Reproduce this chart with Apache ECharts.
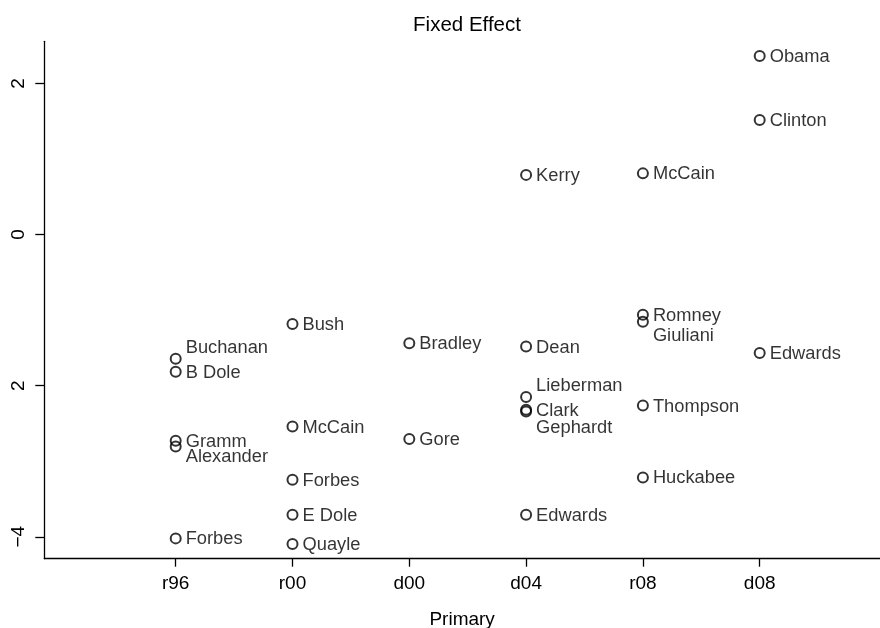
<!DOCTYPE html>
<html>
<head>
<meta charset="utf-8">
<script src="https://cdn.jsdelivr.net/npm/echarts@6/dist/echarts.min.js"></script>
<style>
html,body{margin:0;padding:0;background:#fff;}
#chart{width:880px;height:628px;}
</style>
</head>
<body>
<div id="chart"></div>
<script>
// ---- data ----
const primaries = ['r96', 'r00', 'd00', 'd04', 'r08', 'd08'];
const yTickValues = [-4, -2, 0, 2];
const yTickLabels = ['\u22124', '2', '0', '2'];
const candidates = [
  'Buchanan', 'B Dole', 'Gramm', 'Alexander', 'Forbes',
  'Bush', 'McCain', 'Forbes', 'E Dole', 'Quayle',
  'Bradley', 'Gore',
  'Kerry', 'Dean', 'Lieberman', 'Clark', 'Gephardt', 'Edwards',
  'McCain', 'Romney', 'Giuliani', 'Thompson', 'Huckabee',
  'Obama', 'Clinton', 'Edwards'
];
const candidatePrimary = [
  'r96', 'r96', 'r96', 'r96', 'r96',
  'r00', 'r00', 'r00', 'r00', 'r00',
  'd00', 'd00',
  'd04', 'd04', 'd04', 'd04', 'd04', 'd04',
  'r08', 'r08', 'r08', 'r08', 'r08',
  'd08', 'd08', 'd08'
];
const fixedEffect = [
  -1.644, -1.816, -2.729, -2.804, -4.021,
  -1.185, -2.540, -3.245, -3.708, -4.095,
  -1.437, -2.706,
  0.79, -1.481, -2.151, -2.319, -2.341, -3.708,
  0.81, -1.062, -1.155, -2.262, -3.214,
  2.364, 1.517, -1.569
];
// label placement (clock-style) for crowded points
const labelAbove = ['Buchanan|r96', 'Lieberman|d04'];
const labelBelow = ['Alexander|r96', 'Gephardt|d04', 'Giuliani|r08'];

// ---- chart ----
const FONT = 'Liberation Sans, Arial, Helvetica, sans-serif';
const points = candidates.map((name, i) => {
  const key = name + '|' + candidatePrimary[i];
  let dy = 1;
  if (labelAbove.includes(key)) dy = -11;
  if (name === 'Alexander') dy = 11;
  if (name === 'Gephardt') dy = 17;
  if (name === 'Giuliani') dy = 14;
  return {
    value: [primaries.indexOf(candidatePrimary[i]), fixedEffect[i]],
    name: name,
    label: { offset: [0, dy] }
  };
});

const chart = echarts.init(document.getElementById('chart'), null, { renderer: 'canvas' });
chart.setOption({
  animation: false,
  backgroundColor: '#fff',
  title: {
    text: 'Fixed Effect',
    left: 462,
    textAlign: 'center',
    top: 10,
    textStyle: { fontFamily: FONT, fontSize: 20.5, fontWeight: 'normal', color: '#000' }
  },
  grid: { left: 44.3, right: 0, top: 41.3, bottom: 69.3, containLabel: false, outerBoundsMode: 'none' },
  xAxis: {
    type: 'value',
    min: -1.125,
    max: 6.03,
    name: 'Primary',
    nameLocation: 'middle',
    nameGap: 52,
    nameTextStyle: { fontFamily: FONT, fontSize: 19, color: '#000' },
    axisLine: { show: true, onZero: false, lineStyle: { color: '#000', width: 1.3 } },
    axisTick: { show: true, length: 8, lineStyle: { color: '#000', width: 1.3 }, customValues: [0, 1, 2, 3, 4, 5] },
    axisLabel: {
      customValues: [0, 1, 2, 3, 4, 5],
      margin: 16,
      fontFamily: FONT, fontSize: 19, color: '#000',
      formatter: v => primaries[Math.round(v)]
    },
    splitLine: { show: false }
  },
  yAxis: {
    type: 'value',
    min: -4.29,
    max: 2.558,
    axisLine: { show: true, onZero: false, lineStyle: { color: '#000', width: 1.3 } },
    axisTick: { show: true, length: 9, lineStyle: { color: '#000', width: 1.3 }, customValues: yTickValues },
    axisLabel: {
      customValues: yTickValues,
      rotate: 90,
      margin: 16,
      fontFamily: FONT, fontSize: 19, color: '#000',
      formatter: v => yTickLabels[yTickValues.indexOf(Math.round(v))]
    },
    splitLine: { show: false }
  },
  series: [{
    type: 'scatter',
    data: points,
    symbol: 'circle',
    symbolSize: 10,
    itemStyle: { color: 'rgba(0,0,0,0)', borderColor: '#000', borderWidth: 2 },
    label: {
      show: true,
      position: 'right',
      distance: 4,
      formatter: p => p.name,
      fontFamily: FONT, fontSize: 18.3, color: '#000'
    },
    emphasis: { disabled: true }
  }]
});
</script>
</body>
</html>
